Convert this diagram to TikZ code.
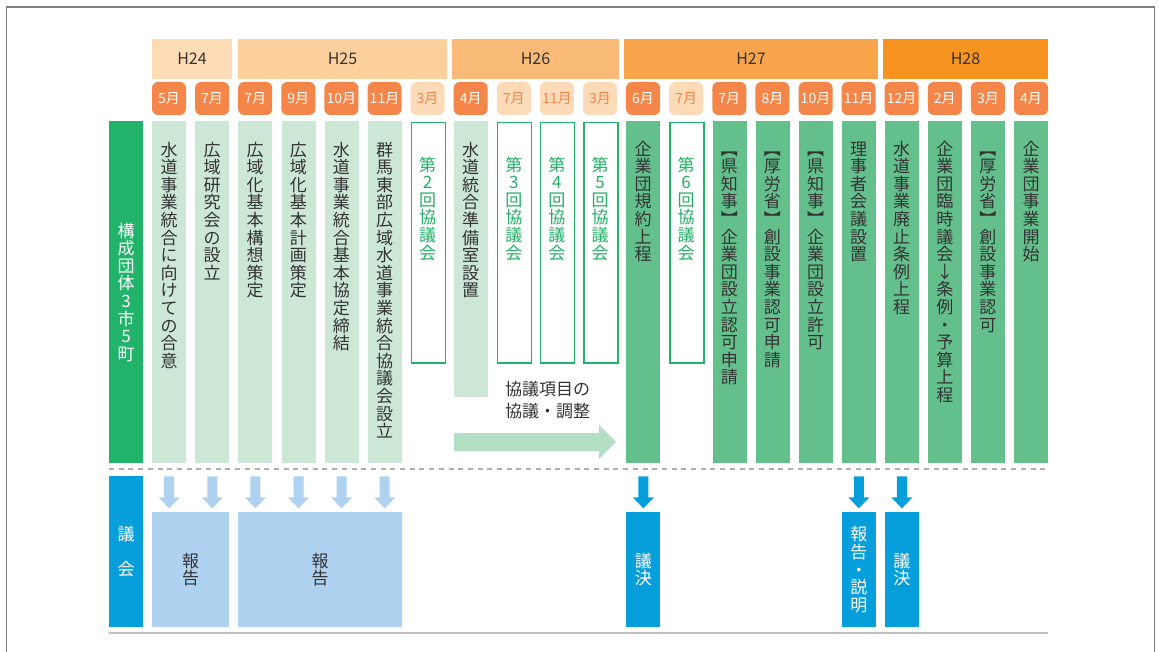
\documentclass[tikz,border=0pt]{standalone}
\usepackage{fontspec}
\setmainfont{Noto Sans CJK JP}
\usetikzlibrary{calc}
\definecolor{frame}{HTML}{7F7F7F}
\definecolor{y24}{HTML}{FDDBB4}
\definecolor{y25}{HTML}{FCD09D}
\definecolor{y26}{HTML}{FBBB78}
\definecolor{y27}{HTML}{F9A54C}
\definecolor{y28}{HTML}{F7941F}
\definecolor{mdark}{HTML}{F4864A}
\definecolor{mlight}{HTML}{FDDBB8}
\definecolor{gLabel}{HTML}{22B36B}
\definecolor{gLight}{HTML}{CCE7D6}
\definecolor{gMid}{HTML}{63C08C}
\definecolor{gText}{HTML}{25AE68}
\definecolor{gArrow}{HTML}{B3DFC5}
\definecolor{bDark}{HTML}{079FDB}
\definecolor{bLight}{HTML}{AED2EF}
\definecolor{txt}{HTML}{333333}
\definecolor{dashc}{HTML}{AFAFAF}
\definecolor{rulec}{HTML}{C0C0C0}
\makeatletter
\def\vs@end{\vs@end}
\def\vs@loop#1{\ifx#1\vs@end\else\hbox to 1em{\hss#1\hss\vrule height .88em depth .12em width 0pt}\expandafter\vs@loop\fi}
\newcommand\vstack[1]{\vbox{\baselineskip=17.6pt\lineskiplimit=-100pt\lineskip=0pt\vs@loop#1\vs@end}}
\makeatother
\begin{document}
\begin{tikzpicture}[x=1pt,y=-1pt,
  yr/.style={minimum height=40pt, inner sep=0, text=txt, font=\fontsize{16}{16}\selectfont},
  monD/.style={fill=mdark, text=white, rounded corners=6pt, minimum width=34pt, minimum height=33pt, inner sep=0, font=\fontsize{14}{14}\selectfont},
  monL/.style={monD, fill=mlight, text=mdark},
  colbase/.style={inner sep=0, minimum width=34pt, anchor=north west},
  colL/.style={colbase, fill=gLight, minimum height=342pt},
  colD/.style={colbase, fill=gMid, minimum height=342pt},
  colO/.style={colbase, fill=white, draw=gLabel, line width=1.5pt, minimum height=240pt},
  vt/.style={inner sep=0, anchor=north, text=txt, font=\fontsize{17}{17.6}\selectfont},
  boxL/.style={inner sep=0, anchor=north west, fill=bLight, minimum height=115pt},
  boxD/.style={inner sep=0, anchor=north west, fill=bDark, minimum height=115pt, minimum width=34pt}
]
\useasboundingbox (0,0) rectangle (1159,652);
\draw[frame, line width=1.3pt] (6.5,652) -- (6.5,7) -- (1154.5,7) -- (1154.5,652);
% years
\node[yr, fill=y24, minimum width=80pt] (h24) at (192,59) {H24};
\node[yr, fill=y25, minimum width=209pt] (h25) at (342.5,59) {H25};
\node[yr, fill=y26, minimum width=167pt] (h26) at (535.5,59) {H26};
\node[yr, fill=y27, minimum width=254pt] (h27) at (751,59) {H27};
\node[yr, fill=y28, minimum width=165pt] (h28) at (965.5,59) {H28};
% months
\foreach \i/\m in {1/5,2/7,3/7,4/9,5/10,6/11,8/4,12/6,14/7,15/8,16/10,17/11,18/12,19/2,20/3,21/4}
  \node[monD] (m\i) at ({169+43.1*(\i-1)},98.5) {\m 月};
\foreach \i/\m in {7/3,9/7,10/11,11/3,13/7}
  \node[monL] (m\i) at ({169+43.1*(\i-1)},98.5) {\m 月};
% left label
\node[colbase, fill=gLabel, minimum height=342pt] (lab1) at (109,121) {};
\node[vt, anchor=center, text=white] (lt1) at (lab1.center) {\vstack{構成団体3市5町}};
% columns
\foreach \i/\t in {1/水道事業統合に向けての合意,2/広域研究会の設立,3/広域化基本構想策定,4/広域化基本計画策定,5/水道事業統合基本協定締結,6/群馬東部広域水道事業統合協議会設立}{
  \node[colL] (c\i) at ({152+43.1*(\i-1)},121) {};
  \node[vt] (t\i) at ({169+43.1*(\i-1)},141) {\expandafter\vstack\expandafter{\t}};
}
\node[colL, minimum height=276pt] (c8) at ({152+43.1*7},121) {};
\node[vt] (t8) at ({169+43.1*7},141) {\vstack{水道統合準備室設置}};
\foreach \i/\t in {7/第2回協議会,9/第3回協議会,10/第4回協議会,11/第5回協議会,13/第6回協議会}{
  \node[colO] (c\i) at ({152+43.1*(\i-1)},122) {};
  \node[vt, text=gText] (t\i) at ({169+43.1*(\i-1)},156) {\expandafter\vstack\expandafter{\t}};
}
\foreach \i/\t in {12/企業団規約上程,14/︻県知事︼企業団設立認可申請,15/︻厚労省︼創設事業認可申請,16/︻県知事︼企業団設立許可,17/理事者会議設置,18/水道事業廃止条例上程,19/企業団臨時議会↓条例・予算上程,20/︻厚労省︼創設事業認可,21/企業団事業開始}{
  \node[colD] (c\i) at ({152+43.1*(\i-1)},121) {};
  \node[vt] (t\i) at ({169+43.1*(\i-1)},140) {\expandafter\vstack\expandafter{\t}};
}
% negotiation arrow and note
\fill[gArrow] (454,433) -- (599,433) -- (599,425) -- (616,442) -- (599,459) -- (599,451) -- (454,451) -- cycle;
\node[inner sep=0, anchor=north west, align=left, text=txt, font=\fontsize{17}{21.5}\selectfont] (note) at (505,381) {協議項目の\\協議・調整};
% dashed separator
\coordinate (dl) at (109,469);
\coordinate (dr) at (1048,469);
\draw[dashc, line width=1.3pt, dash pattern=on 5pt off 4.7pt] (dl) -- (dr);
% council label
\node[colbase, fill=bDark, minimum height=151pt] (lab2) at (109,476) {};
\node[inner sep=0, align=center, text=white, font=\fontsize{17}{35}\selectfont] (lt2) at (lab2.center) {議\\会};
% boxes
\node[boxL, minimum width=77pt] (r1) at (152,512) {};
\node[vt, anchor=center] (rt1) at (r1.center) {\vstack{報告}};
\node[boxL, minimum width=164pt] (r2) at (238,512) {};
\node[vt, anchor=center] (rt2) at (r2.center) {\vstack{報告}};
\node[boxD] (b12) at ({152+43.1*11},512) {};
\node[vt, anchor=center, text=white] (bt12) at (b12.center) {\vstack{議決}};
\node[boxD] (b17) at ({152+43.1*16},512) {};
\node[vt, anchor=center, text=white] (bt17) at (b17.center) {\vstack{報告・説明}};
\node[boxD] (b18) at ({152+43.1*17},512) {};
\node[vt, anchor=center, text=white] (bt18) at (b18.center) {\vstack{議決}};
% down arrows
\foreach \i in {1,2,3,4,5,6}
  \fill[bLight, shift={(c\i.south)}] (-5,13) -- (5,13) -- (5,34) -- (10.5,34) -- (0,45) -- (-10.5,34) -- (-5,34) -- cycle;
\foreach \i in {12,17,18}
  \fill[bDark, shift={(c\i.south)}] (-5,13) -- (5,13) -- (5,34) -- (10.5,34) -- (0,45) -- (-10.5,34) -- (-5,34) -- cycle;
% bottom rule
\coordinate (bl) at (109,633);
\coordinate (br) at (1048,633);
\draw[rulec, line width=2pt] (bl) -- (br);
\end{tikzpicture}
\end{document}
